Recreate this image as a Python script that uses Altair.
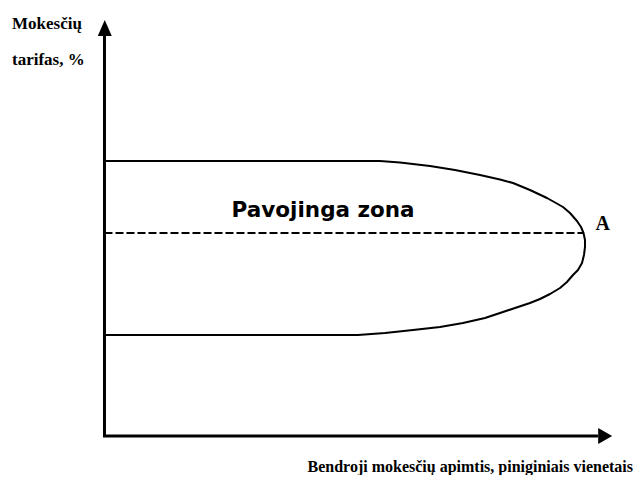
import altair as alt
import pandas as pd

# Values (abstract units: revenue 0-100 at point A, tax rate %)
curve_revenue = [0, 30.28, 46.93, 57.34, 61.5, 67.74, 72.94, 78.15, 82.31, 85.02,
                 88.55, 92.09, 93.96, 95.42, 96.88, 98.33, 99.17, 99.69, 100.0, 100.0,
                 99.79, 99.38, 98.54, 97.5, 96.25, 94.8, 92.72, 90.63, 88.55, 85.43,
                 82.93, 79.19, 74.61, 69.82, 64.2, 58.38, 52.76, 40.69, 19.88, 0]
curve_rate = [68.75, 68.75, 68.75, 68.75, 68.375, 67.5, 66.5, 65.25, 64.125, 63.25,
              61.5, 59.5, 58.25, 57.25, 55.75, 53.75, 52.25, 50.75, 49.0, 47.25,
              45.25, 43.25, 41.5, 40.25, 38.5, 37.0, 35.5, 34.25, 33.25, 32.0,
              31.0, 29.5, 28.25, 27.25, 26.5, 25.75, 25.25, 25.25, 25.25, 25.25]
dashed_revenue = [0, 99.7]
dashed_rate = [50.75, 50.75]

y_label_lines = ["Mokesčių", "tarifas, %"]
x_label = "Bendroji mokesčių apimtis, piniginiais vienetais"
zone_label = "Pavojinga zona"
point_label = "A"

xs = alt.Scale(domain=[-20.08, 110.2], nice=False, zero=False)
ys = alt.Scale(domain=[-9.75, 107], nice=False, zero=False)


def X(field="x"):
    return alt.X(f"{field}:Q", scale=xs, axis=None)


def Y(field="y"):
    return alt.Y(f"{field}:Q", scale=ys, axis=None)


curve_df = pd.DataFrame({"x": curve_revenue, "y": curve_rate,
                         "i": list(range(len(curve_rate)))})
dash_df = pd.DataFrame({"x": dashed_revenue, "y": dashed_rate})

curve = alt.Chart(curve_df).mark_line(
    color="black", strokeWidth=2, interpolate="linear", strokeJoin="round"
).encode(x=X(), y=Y(), order="i:Q")

dashed = alt.Chart(dash_df).mark_line(
    color="black", strokeWidth=2.2, strokeDash=[8, 3]
).encode(x=X(), y=Y())

yaxis = alt.Chart(pd.DataFrame({"x": [0], "y": [-0.2], "y2": [100]})).mark_rule(
    color="black", strokeWidth=3
).encode(x=X(), y=Y(), y2="y2:Q")

xaxis = alt.Chart(pd.DataFrame({"x": [-0.3], "x2": [102.7], "y": [0]})).mark_rule(
    color="black", strokeWidth=3
).encode(x=X(), x2="x2:Q", y=Y())

up_arrow = alt.Chart(pd.DataFrame({"x": [0.05], "y": [102]})).mark_point(
    shape="M0,-1L0.875,1L-0.875,1Z", filled=True, size=256, color="black", opacity=1
).encode(x=X(), y=Y())

right_arrow = alt.Chart(pd.DataFrame({"x": [104.2], "y": [0]})).mark_point(
    shape="M0.875,0L-0.875,-1L-0.875,1Z", filled=True, size=256, color="black", opacity=1
).encode(x=X(), y=Y())

zone = alt.Chart(pd.DataFrame({"x": [45.5], "y": [54.75], "t": [zone_label]})).mark_text(
    font="DejaVu Sans", fontWeight="bold", fontSize=21.5, align="center",
    baseline="alphabetic", color="black"
).encode(x=X(), y=Y(), text="t:N")

a_lab = alt.Chart(pd.DataFrame({"x": [103.7], "y": [51.5], "t": [point_label]})).mark_text(
    font="Liberation Serif", fontWeight="bold", fontSize=20, align="center",
    baseline="alphabetic", color="black"
).encode(x=X(), y=Y(), text="t:N")

ylab = alt.Chart(pd.DataFrame({"x": [-19.25, -19.25], "y": [101.75, 92.75],
                               "t": y_label_lines})).mark_text(
    font="Liberation Serif", fontWeight="bold", fontSize=17, align="left",
    baseline="alphabetic", color="black"
).encode(x=X(), y=Y(), text="t:N")

xlab = alt.Chart(pd.DataFrame({"x": [110.0], "y": [-8.9], "t": [x_label]})).mark_text(
    font="Liberation Serif", fontWeight="bold", fontSize=16, align="right",
    baseline="alphabetic", color="black"
).encode(x=X(), y=Y(), text="t:N")

chart = alt.layer(
    curve, dashed, yaxis, xaxis, up_arrow, right_arrow, zone, a_lab, ylab, xlab
).properties(
    width=626, height=467, autosize=alt.AutoSizeParams(type="none"), padding=0,
    background="white"
).configure_view(stroke=None)

chart.save("out.html", embed_options={"renderer": "svg", "actions": False})
